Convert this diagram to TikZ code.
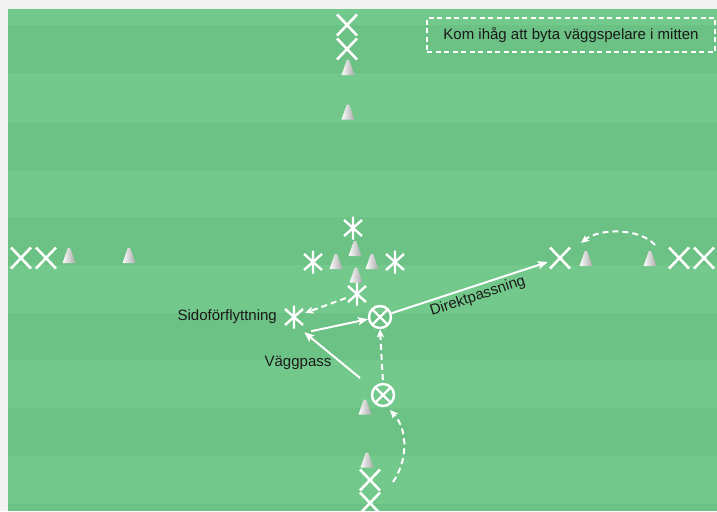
\documentclass[tikz,border=0pt]{standalone}
\usepackage{fontspec}
\setmainfont{Liberation Sans}
\usetikzlibrary{arrows.meta,calc}
\definecolor{fieldL}{HTML}{73C98B}
\definecolor{fieldD}{HTML}{6CC184}
\definecolor{bgGray}{HTML}{F2F2F2}
\definecolor{txt}{HTML}{1A1A1A}
\begin{document}
\begin{tikzpicture}[x=1pt,y=-1pt,
  xp/.style={minimum width=24pt, minimum height=24pt, inner sep=0pt,
    path picture={\draw[white,line width=2.6pt]
      ($(path picture bounding box.center)+(-10,-10.5)$) -- ++(20,21)
      ($(path picture bounding box.center)+(10,-10.5)$) -- ++(-20,21);}},
  ast/.style={minimum width=22pt, minimum height=24pt, inner sep=0pt,
    path picture={\draw[white,line width=2.4pt]
      ($(path picture bounding box.center)+(0,-11.5)$) -- ++(0,23)
      ($(path picture bounding box.center)+(-9,-8)$) -- ++(18,16)
      ($(path picture bounding box.center)+(9,-8)$) -- ++(-18,16);}},
  ball/.style={circle, draw=white, line width=2.4pt, minimum size=22pt, inner sep=0pt,
    path picture={\draw[white,line width=2.2pt]
      ($(path picture bounding box.center)+(-8,-8)$) -- ++(16,16)
      ($(path picture bounding box.center)+(8,-8)$) -- ++(-16,16);}},
  cone/.style={minimum width=14pt, minimum height=15pt, inner sep=0pt,
    path picture={\shade[left color=white, middle color=white!96!black, right color=black!35]
      ($(path picture bounding box.south west)+(0.5,0)$) --
      ($(path picture bounding box.north)+(-1.2,0)$) --
      ($(path picture bounding box.north)+(1.2,0)$) --
      ($(path picture bounding box.south east)+(-0.5,0)$) -- cycle;}},
  lbl/.style={text=txt, font=\fontsize{15}{18}\selectfont, inner sep=1pt},
  note/.style={draw=white, line width=1.4pt, dash pattern=on 5pt off 3.5pt,
    minimum width=288pt, minimum height=34pt, text=txt,
    font=\fontsize{15}{18}\selectfont},
  solidarrow/.style={draw=white, line width=2pt, -{Stealth[length=10pt,width=8pt,inset=2pt]}},
  dasharrow/.style={draw=white, line width=2pt, dash pattern=on 6pt off 4pt,
    -{Stealth[length=8pt,width=7pt,inset=1.5pt]}}
]
\useasboundingbox (0,0) rectangle (717,511);
% background and stripes
\fill[bgGray] (0,0) rectangle (717,511);
\fill[fieldL] (8,9) rectangle (717,511);
\foreach \a/\b in {25/73,122/170,217/265,313/360,408/456,504/511}
  \fill[fieldD] (8,\a) rectangle (717,\b);

% note box
\node[note] (note) at (571,35) {Kom ihåg att byta väggspelare i mitten};

% cones
\node[cone] (ct1) at (348,67.5) {};
\node[cone] (ct2) at (348,112) {};
\node[cone] (cl1) at (69,255.5) {};
\node[cone] (cl2) at (129,255.5) {};
\node[cone] (cct) at (355,248.5) {};
\node[cone] (ccl) at (336,261.5) {};
\node[cone] (ccr) at (372,261.5) {};
\node[cone] (ccb) at (356,275) {};
\node[cone] (cr1) at (586,258.5) {};
\node[cone] (cr2) at (650,258.5) {};
\node[cone] (cb1) at (365,407) {};
\node[cone] (cb2) at (367,460) {};

% X players
\node[xp] (xt1) at (347,25) {};
\node[xp] (xt2) at (347,49) {};
\node[xp] (xl1) at (21,258) {};
\node[xp] (xl2) at (46,258) {};
\node[xp] (xr1) at (560,258) {};
\node[xp] (xr2) at (679,258) {};
\node[xp] (xr3) at (704,258) {};
\node[xp] (xb1) at (370,480) {};
\node[xp] (xb2) at (370,503) {};

% asterisk players
\node[ast] (a1) at (353,228) {};
\node[ast] (a2) at (313,262) {};
\node[ast] (a3) at (395,262) {};
\node[ast] (a5) at (357,294) {};
\node[ast] (s) at (294,317) {};

% balls
\node[ball] (b1) at (380,317) {};
\node[ball] (b2) at (383,395) {};

% labels
\node[lbl, anchor=east] (lsido) at (278,317) {Sidoförflyttning};
\node[lbl] (lvagg) at (298,363) {Väggpass};

% connectors
\draw[dasharrow] (a5) -- (s);
\draw[solidarrow] ($(s.south east)+(6,2)$) -- (b1.190);
\coordinate (vpS) at (360,378);
\draw[solidarrow] (vpS) -- ($(s.south east)+(-1,3)$);
\draw[dasharrow, shorten <=3pt] (b2.north) -- (b1.south);
\draw[solidarrow] (b1) -- node[lbl, sloped, below, pos=0.53, inner sep=3pt] (ldir) {Direktpassning} (xr1);
\coordinate (arcS) at (655,245);
\coordinate (arcE) at (581,243);
\draw[dasharrow] (arcS) .. controls (640,228) and (600,228) .. (arcE);
\coordinate (cvS) at (393,482);
\coordinate (cvE) at (390,410);
\draw[dasharrow] (cvS) .. controls (408,460) and (408,430) .. (cvE);
\end{tikzpicture}
\end{document}
